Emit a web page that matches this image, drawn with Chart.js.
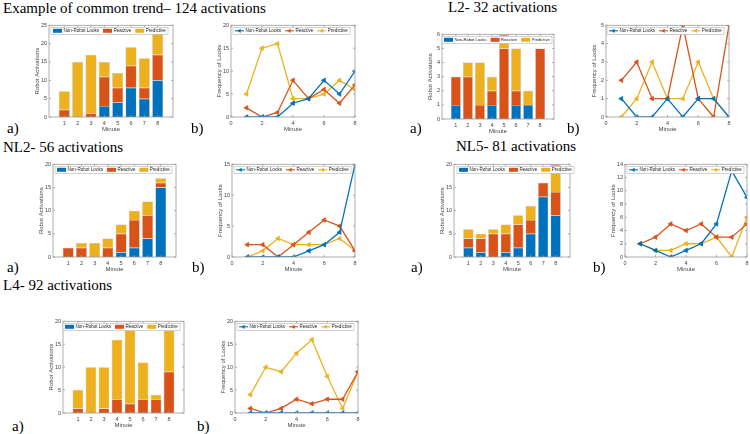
<!DOCTYPE html>
<html><head><meta charset="utf-8">
<script src="https://cdn.jsdelivr.net/npm/chart.js@4"></script>
<style>
html,body{margin:0;padding:0;background:#fff;}
#page{position:relative;width:750px;height:434px;overflow:hidden;background:#fff;}
canvas{position:absolute;}
.t{position:absolute;font-family:"Liberation Serif","Times New Roman",serif;font-size:15px;line-height:15px;color:#000;white-space:nowrap;}
</style></head><body><div id="page"></div>
<script>
// ---- data ----
const minutes=[1,2,3,4,5,6,7,8];
const lineXTicks=[0,2,4,6,8];
const seriesNames=['Non-Robot Looks','Reactive','Predictive'];
// Example of common trend
const commonNonRobot=[0,0,0,3,4,8,5,10];
const commonReactive=[2,0,1,8,4,6,3,7];
const commonPredictive=[5,15,16,4,4,5,8,6];
// L2
const l2NonRobot=[1,0,0,1,0,1,1,0];
const l2Reactive=[2,3,1,1,5,1,0,5];
const l2Predictive=[0,1,3,1,1,3,1,0];
// NL2
const nl2NonRobot=[0,0,0,0,1,2,4,15];
const nl2Reactive=[2,2,0,2,4,6,5,1];
const nl2Predictive=[0,1,3,2,2,2,3,1];
// NL5
const nl5NonRobot=[2,1,0,1,2,5,13,9];
const nl5Reactive=[2,3,5,4,5,3,3,5];
const nl5Predictive=[2,1,1,2,2,3,0,6];
// L4
const l4NonRobot=[0,0,0,0,0,0,0,0];
const l4Reactive=[1,0,1,3,2,3,3,9];
const l4Predictive=[4,10,9,13,16,8,1,9];

const COLORS=['#0072BD','#D95319','#EDB120'];
const YW=15, XH=17, PT=4, PR=8;
const SANS='"Liberation Sans", Arial, sans-serif';
const page=document.getElementById('page');

function addText(txt,x,y){
  const d=document.createElement('div');d.className='t';d.textContent=txt;
  d.style.left=x+'px';d.style.top=y+'px';page.appendChild(d);
}

function drawFrame(chart){
  const {ctx,chartArea:a,scales}=chart;
  ctx.save();ctx.strokeStyle='#9a9a9a';ctx.lineWidth=0.8;
  ctx.strokeRect(a.left,a.top,a.right-a.left,a.bottom-a.top);
  const tl=2;ctx.beginPath();
  scales.x.ticks.forEach(t=>{const p=scales.x.getPixelForValue(t.value);
    ctx.moveTo(p,a.bottom);ctx.lineTo(p,a.bottom-tl);ctx.moveTo(p,a.top);ctx.lineTo(p,a.top+tl);});
  scales.y.ticks.forEach(t=>{const p=scales.y.getPixelForValue(t.value);
    ctx.moveTo(a.left,p);ctx.lineTo(a.left+tl,p);ctx.moveTo(a.right,p);ctx.lineTo(a.right-tl,p);});
  ctx.stroke();ctx.restore();
}

function tri(ctx,cx,cy,r){
  ctx.beginPath();ctx.moveTo(cx-r,cy);ctx.lineTo(cx+r*0.5,cy-r*0.866);ctx.lineTo(cx+r*0.5,cy+r*0.866);ctx.closePath();ctx.fill();
}

const legendPlugin={id:'inlegend',afterDraw(chart){
  drawFrame(chart);
  const o=chart.options.plugins.inlegend;if(!o)return;
  const {ctx,chartArea:a}=chart;
  const sw=9,gap=1.5,sep=4,pad=2;
  ctx.save();
  ctx.font='10px '+SANS;
  const tw=seriesNames.reduce((s,n)=>s+ctx.measureText(n).width,0);
  const fixed=pad*2+3*(sw+gap)+2*sep;
  const fs=Math.max(3,(o.width-fixed)/tw*10);
  ctx.font=fs+'px '+SANS;
  const h=7;const x0=a.left+o.dx;const y0=a.top+2;
  ctx.fillStyle='#fff';ctx.fillRect(x0,y0,o.width,h);
  ctx.strokeStyle='#b5b5b5';ctx.lineWidth=0.6;ctx.strokeRect(x0,y0,o.width,h);
  let x=x0+pad;const cy=y0+h/2;
  seriesNames.forEach((n,i)=>{
    if(o.kind==='bar'){ctx.fillStyle=COLORS[i];ctx.fillRect(x,cy-2,sw,4);}
    else{ctx.strokeStyle=COLORS[i];ctx.lineWidth=1.1;ctx.beginPath();ctx.moveTo(x,cy);ctx.lineTo(x+sw,cy);ctx.stroke();
      ctx.fillStyle=COLORS[i];tri(ctx,x+sw/2,cy,2.4);}
    x+=sw+gap;ctx.fillStyle='#222';ctx.textBaseline='middle';ctx.fillText(n,x,cy+0.3);
    x+=ctx.measureText(n).width+sep;
  });
  ctx.restore();
}};

function makeChart(rect,type,series,yMax,yStep,opts={}){
  const [L,T,R,B]=rect;const W=R-L+YW+PR,H=B-T+PT+XH;
  const cv=document.createElement('canvas');cv.width=W;cv.height=H;
  cv.style.left=(L-YW)+'px';cv.style.top=(T-PT)+'px';cv.style.width=W+'px';cv.style.height=H+'px';
  page.appendChild(cv);
  const isBar=type==='bar';
  const datasets=series.map((vals,i)=>Object.assign({
    label:seriesNames[i],data:minutes.map((m,j)=>({x:m,y:vals[j]})),
    backgroundColor:COLORS[i]},
    isBar?{borderColor:'rgba(120,120,120,0.6)',borderWidth:0.5,barPercentage:0.82,categoryPercentage:1}
         :{borderColor:COLORS[i],borderWidth:1.3,pointStyle:'triangle',pointRotation:-90,pointRadius:2.6,
           pointBackgroundColor:COLORS[i],pointBorderColor:COLORS[i],pointBorderWidth:0.8,tension:0,fill:false}));
  const tickFont={family:SANS,size:5.5};
  const titleFont={family:SANS,size:6};
  new Chart(cv,{type,data:{datasets},options:{
    responsive:false,animation:false,devicePixelRatio:1,
    layout:{padding:{left:0,top:PT,right:PR,bottom:0}},
    plugins:{legend:{display:false},tooltip:{enabled:false},
      inlegend:{kind:type,width:opts.legendWidth||117,dx:(opts.legendDx!==undefined?opts.legendDx:2)}},
    scales:{
      x:{type:'linear',min:isBar?-0.15:0,max:isBar?9.15:8,offset:false,stacked:isBar,
        grid:{display:false,drawTicks:false},border:{display:false},
        afterBuildTicks:s=>{s.ticks=(isBar?minutes:lineXTicks).map(v=>({value:v}));},
        ticks:{font:tickFont,color:'#444',padding:3,maxRotation:0,autoSkip:false},
        title:{display:true,text:'Minute',font:titleFont,color:'#444',padding:{top:0,bottom:1}},
        afterFit:s=>{s.height=XH;}},
      y:{type:'linear',min:0,max:yMax,stacked:isBar,grid:{display:false,drawTicks:false},border:{display:false},
        ticks:{stepSize:yStep,font:tickFont,color:'#444',padding:2},
        title:{display:true,text:isBar?'Robot Activations':'Frequency of Looks',font:titleFont,color:'#444',padding:{top:0,bottom:1}},
        afterFit:s=>{s.width=YW;}}
    }},plugins:[legendPlugin]});
}

// Row 1
makeChart([49,24,173,117],'bar',[commonNonRobot,commonReactive,commonPredictive],25,5);
makeChart([231,24,355,117],'line',[commonNonRobot,commonReactive,commonPredictive],20,5);
makeChart([442,33,554,119],'bar',[l2NonRobot,l2Reactive,l2Predictive],6,1,{legendWidth:110,legendDx:0});
makeChart([606,24,729,117],'line',[l2NonRobot,l2Reactive,l2Predictive],5,1,{legendDx:1});
// Row 2
makeChart([53,163,176,257],'bar',[nl2NonRobot,nl2Reactive,nl2Predictive],20,5);
makeChart([232,163,355,257],'line',[nl2NonRobot,nl2Reactive,nl2Predictive],15,5);
makeChart([454,163,570,257],'bar',[nl5NonRobot,nl5Reactive,nl5Predictive],20,5,{legendDx:3});
makeChart([625,163,747,257],'line',[nl5NonRobot,nl5Reactive,nl5Predictive],14,2);
// Row 3
makeChart([63,320,184,413],'bar',[l4NonRobot,l4Reactive,l4Predictive],20,5,{legendDx:0});
makeChart([235,320,358,413],'line',[l4NonRobot,l4Reactive,l4Predictive],20,5);

// titles and panel labels
addText('Example of common trend\u2013 124 activations',3,1);
addText('L2- 32 activations',448,0);
addText('NL2- 56 activations',3,139.5);
addText('NL5- 81 activations',456,139);
addText('L4- 92 activations',3,277.5);
[['a)',7,120.5],['b)',191,120.5],['a)',410,120.5],['b)',567,120.5],
 ['a)',7,259.5],['b)',192,259.5],['a)',411,259.5],['b)',593,259.5],
 ['a)',12,418.5],['b)',197,418.5]].forEach(p=>addText(p[0],p[1],p[2]));
</script></body></html>
